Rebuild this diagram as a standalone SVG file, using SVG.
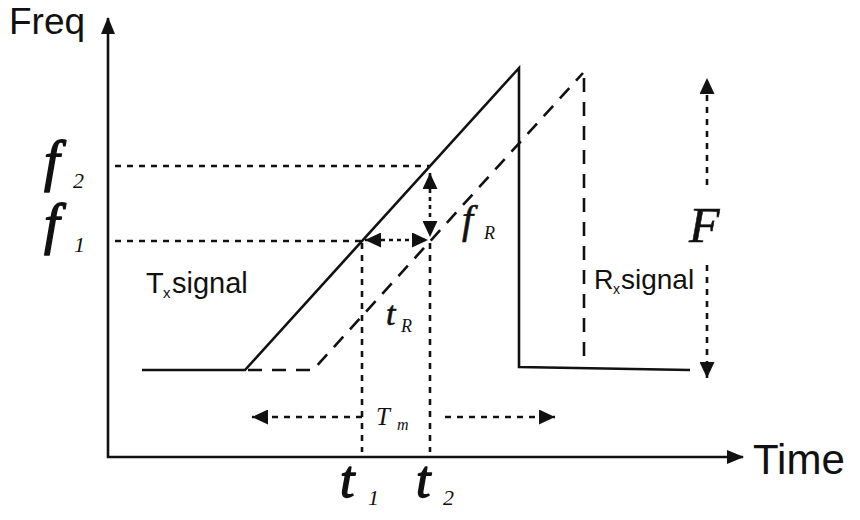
<svg xmlns="http://www.w3.org/2000/svg" width="860" height="520" viewBox="0 0 860 520">
<style>
.ax{stroke:#111;stroke-width:2.6;fill:none}
.sol{stroke:#111;stroke-width:2.6;fill:none;stroke-linejoin:miter}
.dash{stroke:#111;stroke-width:2.6;fill:none;stroke-dasharray:14 10}
.dot{stroke:#111;stroke-width:2.6;fill:none;stroke-dasharray:6 6}
.fine{stroke:#111;stroke-width:2.6;fill:none;stroke-dasharray:4 4}
.sans{font-family:"Liberation Sans",Arial,sans-serif;fill:#111}
.math{font-family:"Liberation Serif","Times New Roman",serif;font-style:italic;fill:#111}
.big{stroke:#111;stroke-width:1.4;stroke-linejoin:round}
.mid{stroke:#111;stroke-width:0.6}
.num{font-family:"Liberation Serif","Times New Roman",serif;font-style:italic;fill:#111}
</style>
<defs>
<marker id="axhead" markerUnits="userSpaceOnUse" markerWidth="17" markerHeight="14" refX="16" refY="7" orient="auto"><path d="M0,0 L17,7 L0,14 z" fill="#111"/></marker>
<marker id="head" markerUnits="userSpaceOnUse" markerWidth="16" markerHeight="15" refX="16" refY="7.5" orient="auto-start-reverse"><path d="M0,0 L16,7.5 L0,15 z" fill="#111"/></marker>
</defs>

<g id="axes">
<line class="ax" x1="108" y1="458" x2="108" y2="18" marker-end="url(#axhead)"/>
<line class="ax" x1="107" y1="457" x2="743" y2="457" marker-end="url(#axhead)"/>
<text class="sans" x="9" y="34" font-size="37">Freq</text>
<text class="sans" x="753" y="474" font-size="42">Time</text>
</g>

<g id="tx-signal">
<polyline class="sol" points="142,370 245,370 519,68 519,367 690,370"/>
<text class="sans" x="146" y="293" font-size="29">T</text>
<text class="sans" x="163" y="298" font-size="15">x</text>
<text class="sans" x="172" y="293" font-size="29">signal</text>
</g>

<g id="rx-signal">
<polyline class="dash" points="248,370 313,370 583,73"/>
<line class="dash" x1="584" y1="78" x2="584" y2="356"/>
<text class="sans" x="594" y="289" font-size="27">R</text>
<text class="sans" x="613" y="294" font-size="14">x</text>
<text class="sans" x="621" y="289" font-size="28">signal</text>
</g>

<g id="connectors">
<line class="dot" x1="115" y1="166" x2="430" y2="166"/>
<line class="dot" x1="115" y1="241" x2="362" y2="241"/>
<line class="dot" x1="362" y1="243" x2="362" y2="452"/>
<line class="dot" x1="430" y1="243" x2="430" y2="452"/>
<line class="fine" x1="430" y1="173" x2="430" y2="237" marker-start="url(#head)" marker-end="url(#head)"/>
<line class="fine" x1="365" y1="240" x2="428" y2="240" marker-start="url(#head)" marker-end="url(#head)"/>
<line class="dot" x1="362" y1="417" x2="252" y2="417" marker-end="url(#head)"/>
<line class="dot" x1="445" y1="417" x2="555" y2="417" marker-end="url(#head)"/>
<line class="dot" x1="707" y1="185" x2="707" y2="78" marker-end="url(#head)"/>
<line class="dot" x1="707" y1="265" x2="707" y2="378" marker-end="url(#head)"/>
</g>

<g id="labels">
<text class="math big" x="44" y="180" font-size="56">f</text>
<text class="num" x="73" y="188" font-size="22">2</text>
<text class="math big" x="44" y="243" font-size="56">f</text>
<text class="num" x="74" y="252" font-size="22">1</text>
<text class="math mid" x="462" y="233" font-size="40">f</text>
<text class="math" x="484" y="239" font-size="18">R</text>
<text class="math mid" x="386" y="325" font-size="34">t</text>
<text class="math" x="401" y="332" font-size="18">R</text>
<text class="math" x="376" y="425" font-size="25">T</text>
<text class="math" x="397" y="430" font-size="16">m</text>
<text class="math mid" x="689" y="242" font-size="50">F</text>
<text class="math big" x="340" y="497" font-size="52">t</text>
<text class="num" x="368" y="505" font-size="22">1</text>
<text class="math big" x="416" y="497" font-size="52">t</text>
<text class="num" x="443" y="505" font-size="22">2</text>
</g>
</svg>
